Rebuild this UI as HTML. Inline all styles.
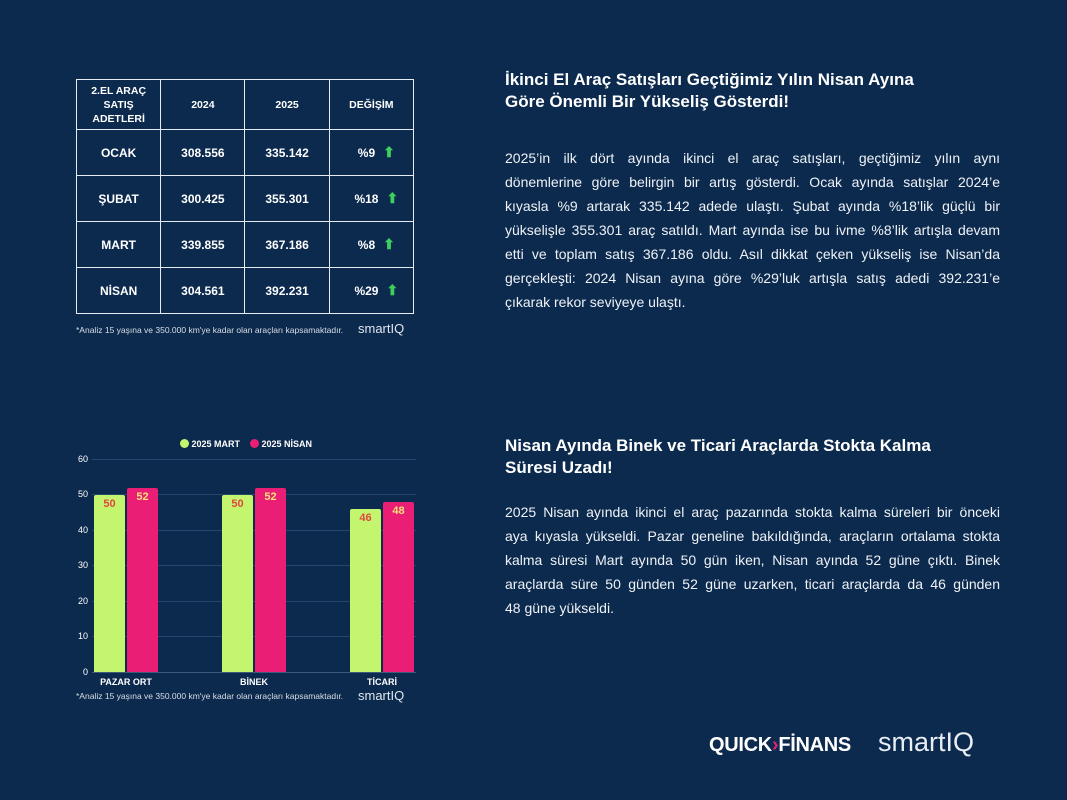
<!DOCTYPE html>
<html><head><meta charset="utf-8"><style>
*{margin:0;padding:0;box-sizing:border-box}
body{width:1067px;height:800px;background:#0c2a4e;font-family:"Liberation Sans",sans-serif;color:#fff;position:relative;overflow:hidden}
.abs{position:absolute}
table{position:absolute;left:76px;top:79px;border-collapse:collapse;width:338px}
td{border:1.5px solid #e6ecf2;text-align:center;font-weight:bold;font-size:12px;width:84.5px}
.h td{height:50px;font-size:10.5px;line-height:14px}
.r td{height:46px}
.arr{color:#3ecf5c;font-size:14px;margin-left:8px}
.t{font-weight:bold;font-size:17px;line-height:22px;left:505px;width:480px}
.p{left:505px;width:495px;font-size:14px;line-height:24px;color:#eef2f6}
.p div{text-align:justify;text-align-last:justify;white-space:nowrap;overflow:hidden}
.p div.l{text-align-last:left}
.note{font-size:8.5px;color:#d8dee6;white-space:nowrap}
.ax{font-size:9px;color:#fff;width:20px;text-align:right}
.grid{position:absolute;left:92px;width:324px;height:1px;background:#26476b}
.bar{position:absolute;width:31px;border-radius:2px 2px 0 0}
.g{background:#c4f56e}.k{background:#e91e74}
.v{position:absolute;width:31px;text-align:center;font-size:11px;font-weight:bold}
.g .v{color:#e2463f}.k .v{color:#f8e27a}
.xl{font-size:9px;font-weight:bold;text-align:center;width:90px}
</style></head><body>
<table>
<tr class="h"><td>2.EL ARAÇ<br>SATIŞ<br>ADETLERİ</td><td>2024</td><td>2025</td><td>DEĞİŞİM</td></tr>
<tr class="r"><td>OCAK</td><td>308.556</td><td>335.142</td><td>&nbsp;&nbsp;&nbsp;%9<span class="arr">⬆</span></td></tr>
<tr class="r"><td>ŞUBAT</td><td>300.425</td><td>355.301</td><td>&nbsp;&nbsp;&nbsp;%18<span class="arr">⬆</span></td></tr>
<tr class="r"><td>MART</td><td>339.855</td><td>367.186</td><td>&nbsp;&nbsp;&nbsp;%8<span class="arr">⬆</span></td></tr>
<tr class="r"><td>NİSAN</td><td>304.561</td><td>392.231</td><td>&nbsp;&nbsp;&nbsp;%29<span class="arr">⬆</span></td></tr>
</table>
<div class="abs note" style="left:76px;top:325px">*Analiz 15 yaşına ve 350.000 km'ye kadar olan araçları kapsamaktadır.</div>
<div class="abs" style="left:358px;top:321px;font-size:13px;color:#dfe6ee">smartIQ</div>

<div class="abs t" style="top:69px">İkinci El Araç Satışları Geçtiğimiz Yılın Nisan Ayına<br>Göre Önemli Bir Yükseliş Gösterdi!</div>
<div class="abs p" style="top:146px">
<div>2025’in ilk dört ayında ikinci el araç satışları, geçtiğimiz yılın aynı</div>
<div>dönemlerine göre belirgin bir artış gösterdi. Ocak ayında satışlar 2024’e</div>
<div>kıyasla %9 artarak 335.142 adede ulaştı. Şubat ayında %18’lik güçlü bir</div>
<div>yükselişle 355.301 araç satıldı. Mart ayında ise bu ivme %8’lik artışla devam</div>
<div>etti ve toplam satış 367.186 oldu. Asıl dikkat çeken yükseliş ise Nisan’da</div>
<div>gerçekleşti: 2024 Nisan ayına göre %29’luk artışla satış adedi 392.231’e</div>
<div class="l">çıkarak rekor seviyeye ulaştı.</div>
</div>

<div class="abs t" style="top:435px">Nisan Ayında Binek ve Ticari Araçlarda Stokta Kalma<br>Süresi Uzadı!</div>
<div class="abs p" style="top:500px">
<div>2025 Nisan ayında ikinci el araç pazarında stokta kalma süreleri bir önceki</div>
<div>aya kıyasla yükseldi. Pazar geneline bakıldığında, araçların ortalama stokta</div>
<div>kalma süresi Mart ayında 50 gün iken, Nisan ayında 52 güne çıktı. Binek</div>
<div>araçlarda süre 50 günden 52 güne uzarken, ticari araçlarda da 46 günden</div>
<div class="l">48 güne yükseldi.</div>
</div>

<div class="abs" style="left:180px;top:439px;font-size:9px;font-weight:bold"><span style="display:inline-block;width:9px;height:9px;border-radius:50%;background:#c4f56e;vertical-align:-1px"></span> 2025 MART &nbsp;&nbsp;&nbsp;<span style="display:inline-block;width:9px;height:9px;border-radius:50%;background:#e91e74;vertical-align:-1px"></span> 2025 NİSAN</div>
<div class="grid" style="top:459px"></div>
<div class="grid" style="top:494px"></div>
<div class="grid" style="top:530px"></div>
<div class="grid" style="top:565px"></div>
<div class="grid" style="top:601px"></div>
<div class="grid" style="top:636px"></div>
<div class="grid" style="top:672px;background:#3b5a7c"></div>
<div class="abs ax" style="left:68px;top:454px">60</div>
<div class="abs ax" style="left:68px;top:489px">50</div>
<div class="abs ax" style="left:68px;top:525px">40</div>
<div class="abs ax" style="left:68px;top:560px">30</div>
<div class="abs ax" style="left:68px;top:596px">20</div>
<div class="abs ax" style="left:68px;top:631px">10</div>
<div class="abs ax" style="left:68px;top:667px">0</div>
<div class="bar g" style="left:94px;top:495px;height:177px"><div class="v" style="top:3px">50</div></div>
<div class="bar k" style="left:127px;top:488px;height:184px"><div class="v" style="top:3px">52</div></div>
<div class="bar g" style="left:222px;top:495px;height:177px"><div class="v" style="top:3px">50</div></div>
<div class="bar k" style="left:255px;top:488px;height:184px"><div class="v" style="top:3px">52</div></div>
<div class="bar g" style="left:350px;top:509px;height:163px"><div class="v" style="top:3px">46</div></div>
<div class="bar k" style="left:383px;top:502px;height:170px"><div class="v" style="top:3px">48</div></div>
<div class="abs xl" style="left:81px;top:677px">PAZAR ORT</div>
<div class="abs xl" style="left:209px;top:677px">BİNEK</div>
<div class="abs xl" style="left:337px;top:677px">TİCARİ</div>
<div class="abs note" style="left:76px;top:691px">*Analiz 15 yaşına ve 350.000 km'ye kadar olan araçları kapsamaktadır.</div>
<div class="abs" style="left:358px;top:688px;font-size:13px;color:#dfe6ee">smartIQ</div>

<div class="abs" style="left:709px;top:734px;font-size:20px;font-weight:bold;letter-spacing:-0.3px">QUICK<span style="color:#e91e74">›</span>FİNANS</div>
<div class="abs" style="left:878px;top:727px;font-size:27px;color:#e8eef4">smartIQ</div>
</body></html>
